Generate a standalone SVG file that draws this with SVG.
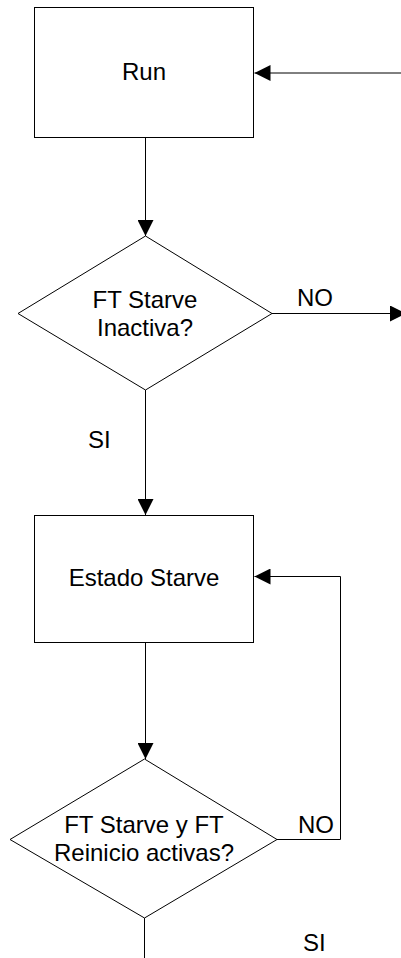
<svg xmlns="http://www.w3.org/2000/svg" width="401" height="958" viewBox="0 0 401 958">
  <style>
    .shape { fill: #ffffff; stroke: #000000; stroke-width: 1; }
    .wire { fill: none; stroke: #000000; stroke-width: 1; }
    .label { font-family: "Liberation Sans", Arial, sans-serif; font-size: 24px; fill: #000000; }
    .mid { text-anchor: middle; }
  </style>
  <defs>
    <marker id="arrow" markerUnits="userSpaceOnUse" markerWidth="17" markerHeight="16" refX="16" refY="8" orient="auto">
      <path d="M0,0 L16,8 L0,16 Z" fill="#000000"/>
    </marker>
  </defs>

  <rect width="401" height="958" fill="#ffffff"/>

  <!-- connectors -->
  <g id="connectors">
    <path class="wire" d="M401,73 L254.5,73" marker-end="url(#arrow)" stroke="#555555"/>
    <path class="wire" d="M145.5,137.5 L145.5,236" marker-end="url(#arrow)"/>
    <path class="wire" d="M272,313.5 L406,313.5" marker-end="url(#arrow)"/>
    <path class="wire" d="M145.5,390 L145.5,515" marker-end="url(#arrow)"/>
    <path class="wire" d="M145.5,642.5 L145.5,759" marker-end="url(#arrow)"/>
    <path class="wire" d="M277,839.5 L340.5,839.5 L340.5,576.5 L254.5,576.5" marker-end="url(#arrow)"/>
    <path class="wire" d="M144.5,918 L144.5,958"/>
    <text class="label" x="297" y="306">NO</text>
    <text class="label" x="88" y="448">SI</text>
    <text class="label" x="298" y="833">NO</text>
    <text class="label" x="303" y="951">SI</text>
  </g>

  <!-- process: Run -->
  <g id="run">
    <rect class="shape" x="34.5" y="7.5" width="219" height="130"/>
    <text class="label mid" x="144" y="80">Run</text>
  </g>

  <!-- decision: FT Starve Inactiva? -->
  <g id="ft-starve-inactiva">
    <polygon class="shape" points="145.5,236 272,313.5 145.5,390 18,313.5"/>
    <text class="label mid" x="145" y="308">FT Starve</text>
    <text class="label mid" x="145" y="336">Inactiva?</text>
  </g>

  <!-- process: Estado Starve -->
  <g id="estado-starve">
    <rect class="shape" x="34.5" y="515.5" width="219" height="127"/>
    <text class="label mid" x="144" y="586">Estado Starve</text>
  </g>

  <!-- decision: FT Starve y FT Reinicio activas? -->
  <g id="ft-starve-reinicio">
    <polygon class="shape" points="144.5,759 277,839.5 144.5,918 10,839.5"/>
    <text class="label mid" x="144" y="833">FT Starve y FT</text>
    <text class="label mid" x="144" y="861">Reinicio activas?</text>
  </g>
</svg>
